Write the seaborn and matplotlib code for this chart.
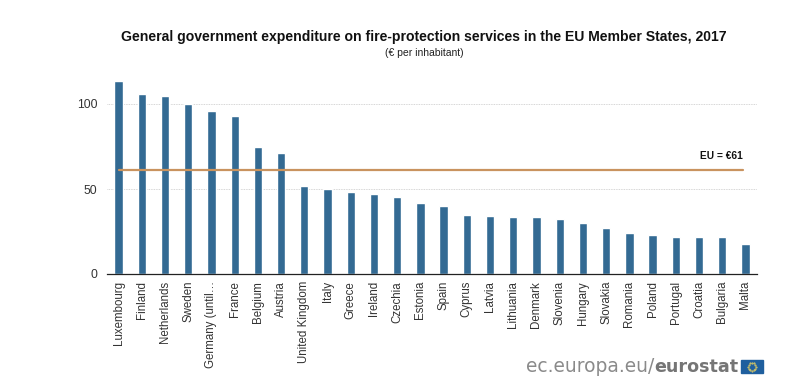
import matplotlib
matplotlib.use("Agg")
import matplotlib.pyplot as plt
from matplotlib.patches import Rectangle
import numpy as np
import pandas as pd
import seaborn as sns

countries = ["Luxembourg", "Finland", "Netherlands", "Sweden", "Germany (until…", "France", "Belgium",
             "Austria", "United Kingdom", "Italy", "Greece", "Ireland", "Czechia", "Estonia", "Spain",
             "Cyprus", "Latvia", "Lithuania", "Denmark", "Slovenia", "Hungary", "Slovakia", "Romania",
             "Poland", "Portugal", "Croatia", "Bulgaria", "Malta"]
values = [113.5, 106, 104.5, 100, 96, 93, 74.5, 71, 51.5, 50, 48, 47, 45.5, 42, 40, 35, 34.3, 33.3, 33.3, 32.5,
          30, 27, 24, 23, 22, 21.5, 21.5, 17.5]
eu_value = 61
y_ticks = [0, 50, 100]

sns.set_theme(style="white")
plt.rcParams["font.family"] = ["Liberation Sans", "DejaVu Sans"]

W, H = 799, 388
fig = plt.figure(figsize=(W / 100, H / 100), dpi=100)
ax = fig.add_axes([107 / W, 1 - 274 / H, (757 - 107) / W, (274 - 72) / H])

df = pd.DataFrame({"country": countries, "value": values})
sns.barplot(data=df, x="country", y="value", color="#336a93", saturation=1, width=0.36, ax=ax, zorder=2)

ax.plot([0, 26.9], [eu_value, eu_value], color="#c9935f", lw=1.6, zorder=3)
ax.text(26.9, eu_value + 5.5, "EU = €61", ha="right", va="bottom", fontsize=7.3, fontweight="bold", color="#111111")

ax.set_xlim(-0.5, 27.5)
ax.set_ylim(0, 202 / 1.70)
ax.set_yticks(y_ticks)
ax.set_xlabel("")
ax.set_ylabel("")
ax.yaxis.grid(True, color="#c8c8c8", lw=0.6, ls=(0, (1, 1)), zorder=0)
ax.xaxis.grid(False)
ax.set_axisbelow(True)
for s in ["top", "right", "left"]:
    ax.spines[s].set_visible(False)
ax.spines["bottom"].set_visible(True)
ax.spines["bottom"].set_color("#222222")
ax.spines["bottom"].set_linewidth(0.9)
ax.tick_params(axis="y", length=0, labelsize=8.8, pad=7, labelcolor="#333333")
ax.tick_params(axis="x", length=0, labelsize=8.3, pad=5, labelcolor="#333333")
plt.setp(ax.get_xticklabels(), rotation=90, ha="center", va="top")

fig.text(424 / W, 1 - 37 / H, "General government expenditure on fire-protection services in the EU Member States, 2017",
         ha="center", va="center", fontsize=10.05, fontweight="bold", color="#111111")
fig.text(424 / W, 1 - 52.5 / H, "(€ per inhabitant)", ha="center", va="center", fontsize=7.5, color="#222222")

t1 = fig.text(526 / W, 1 - 367 / H, "ec.europa.eu/", ha="left", va="center", fontsize=13.4,
              family="DejaVu Sans", color="#8a8a8a")
fig.canvas.draw()
bb = t1.get_window_extent()
fig.text(bb.x1 / W, 1 - 367 / H, "eurostat", ha="left", va="center", fontsize=12.6, family="DejaVu Sans",
         fontweight="bold", color="#757575")
fig.add_artist(Rectangle((741 / W, 1 - 373 / H), 22 / W, 13 / H, transform=fig.transFigure, color="#1f5f9e"))
angles = np.deg2rad(np.arange(0, 360, 30))
fig.add_artist(plt.Line2D((752 + 4 * np.cos(angles)) / W, 1 - (366.5 + 4 * np.sin(angles)) / H, ls="", marker=".",
                          ms=1, color="#e8d060", transform=fig.transFigure))

fig.savefig("out.png", dpi=100)
